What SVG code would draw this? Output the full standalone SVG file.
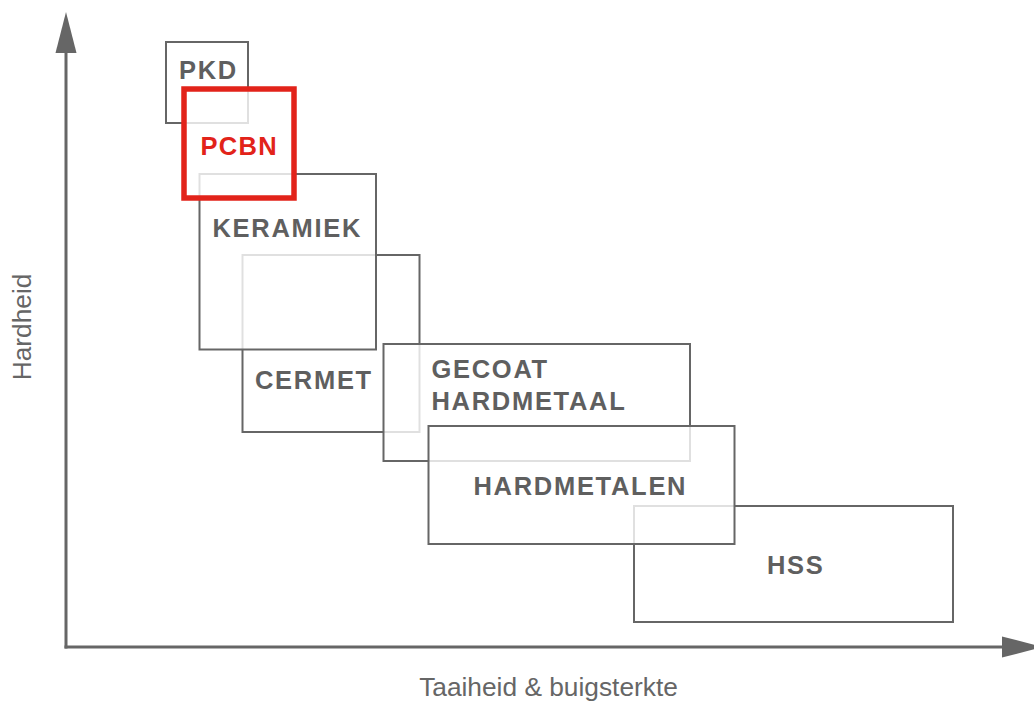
<svg xmlns="http://www.w3.org/2000/svg" width="1034" height="702" viewBox="0 0 1034 702">
  <defs>
    <marker id="arrow" markerUnits="userSpaceOnUse" markerWidth="44" markerHeight="24" viewBox="0 0 44 24" refX="1" refY="11" orient="auto">
      <path d="M0,0.5 L41,11 L0,21.5 z" fill="#666"/>
    </marker>
    <style>
      .box { fill: #fff; fill-opacity: 0.8; stroke: #666; stroke-width: 2; }
      .red { fill: #fff; fill-opacity: 0.8; stroke: #e2231a; stroke-width: 5.5; }
      .lbl { font-family: "Liberation Sans", Arial, sans-serif; font-weight: bold; font-size: 25.5px; letter-spacing: 1.7px; fill: #5f5f5f; }
      .lblred { font-family: "Liberation Sans", Arial, sans-serif; font-weight: bold; font-size: 25.5px; letter-spacing: 1.3px; fill: #e2231a; }
      .axis { stroke: #666; stroke-width: 3; fill: none; }
      .axlbl { font-family: "Liberation Sans", Arial, sans-serif; font-size: 26.3px; fill: #666; text-anchor: middle; }
    </style>
  </defs>
  <rect width="1034" height="702" fill="#fff"/>

  <g id="connectors">
    <line class="axis" x1="66" y1="648.5" x2="66" y2="52" marker-end="url(#arrow)"/>
    <line class="axis" x1="64.5" y1="647" x2="1003" y2="647" marker-end="url(#arrow)"/>
  </g>

  <g id="pkd">
    <rect class="box" x="166" y="42" width="82" height="81"/>
    <text class="lbl" x="179" y="78.5">PKD</text>
  </g>
  <g id="cermet">
    <rect class="box" x="242.5" y="255" width="177" height="177"/>
    <text class="lbl" x="255" y="389">CERMET</text>
  </g>
  <g id="keramiek">
    <rect class="box" x="199.5" y="174" width="176.5" height="175.5"/>
    <text class="lbl" x="212.5" y="236.5">KERAMIEK</text>
  </g>
  <g id="pcbn">
    <rect class="red" x="184" y="89" width="110" height="109"/>
    <text class="lblred" x="200.5" y="155">PCBN</text>
  </g>
  <g id="gecoat-hardmetaal">
    <rect class="box" x="383.5" y="344" width="306.5" height="117"/>
    <text class="lbl" x="431.5" y="378">GECOAT</text>
    <text class="lbl" x="431.5" y="410">HARDMETAAL</text>
  </g>
  <g id="hss">
    <rect class="box" x="634" y="506" width="319" height="116"/>
    <text class="lbl" x="767" y="573.5">HSS</text>
  </g>
  <g id="hardmetalen">
    <rect class="box" x="428.5" y="426" width="306" height="118"/>
    <text class="lbl" x="473.5" y="494.5">HARDMETALEN</text>
  </g>

  <text class="axlbl" transform="translate(31,327) rotate(-90)">Hardheid</text>
  <text class="axlbl" x="548.5" y="696">Taaiheid &amp; buigsterkte</text>
</svg>
